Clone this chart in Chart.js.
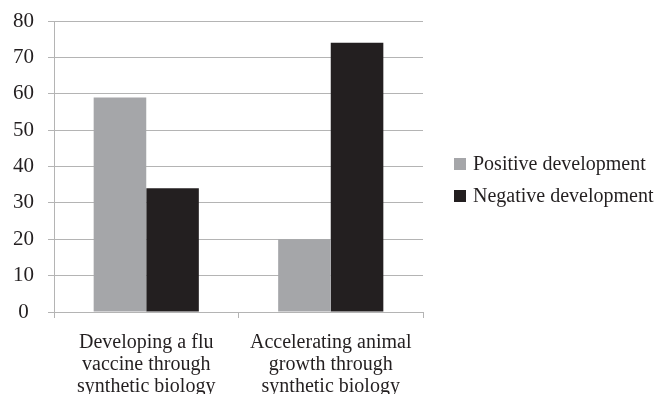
<!DOCTYPE html>
<html>
<head>
<meta charset="utf-8">
<script src="https://cdn.jsdelivr.net/npm/chart.js@4/dist/chart.umd.min.js"></script>
<style>
  html, body { margin: 0; padding: 0; background: #fff; }
  #wrap { width: 654px; height: 394px; }
</style>
</head>
<body>
<div id="wrap"><canvas id="c" width="654" height="394"></canvas></div>
<script>
const categories = [
  ['Developing a flu', 'vaccine through', 'synthetic biology'],
  ['Accelerating animal', 'growth through', 'synthetic biology']
];
const seriesNames = ['Positive development', 'Negative development'];
const positiveValues = [59, 20];
const negativeValues = [34, 74];
const yTicks = [0, 10, 20, 30, 40, 50, 60, 70, 80];

const GRAY = '#a5a6a9';
const BLACK = '#231f20';
const GRID = '#b4b4b4';
const SERIF = '"Liberation Serif", "Times New Roman", serif';

// Legend drawn to the right of the plot, using the dataset colours and labels
const sideLegend = {
  id: 'sideLegend',
  afterDraw(chart) {
    const ctx = chart.ctx;
    ctx.save();
    ctx.font = '20px ' + SERIF;
    ctx.textBaseline = 'middle';
    ctx.textAlign = 'left';
    const x = 454, y0 = 164, step = 32, box = 12;
    chart.data.datasets.forEach((ds, i) => {
      const y = y0 + i * step;
      ctx.fillStyle = ds.backgroundColor;
      ctx.fillRect(x, y - box / 2, box, box);
      ctx.fillStyle = '#231f20';
      ctx.fillText(ds.label, x + 19, y + 1);
    });
    ctx.restore();
  }
};

new Chart(document.getElementById('c'), {
  type: 'bar',
  data: {
    labels: categories,
    datasets: [
      { label: seriesNames[0], data: positiveValues, backgroundColor: GRAY },
      { label: seriesNames[1], data: negativeValues, backgroundColor: BLACK }
    ]
  },
  options: {
    responsive: false,
    animation: false,
    devicePixelRatio: 1,
    layout: { padding: { top: 21, right: 231, bottom: 0, left: 0 } },
    datasets: { bar: { categoryPercentage: 0.57, barPercentage: 1.0, borderWidth: 0 } },
    plugins: {
      legend: { display: false },
      tooltip: { enabled: false }
    },
    scales: {
      x: {
        offset: true,
        grid: { display: true, drawOnChartArea: false, drawTicks: true, tickLength: 6, color: GRID, offset: true },
        border: { display: true, color: GRID, width: 1 },
        ticks: {
          color: '#231f20',
          font: { family: SERIF, size: 20, lineHeight: 1.1 },
          padding: 14,
          maxRotation: 0,
          autoSkip: false
        },
        afterFit(scale) { scale.height = 82; }
      },
      y: {
        min: 0,
        max: 80,
        afterBuildTicks(scale) { scale.ticks = yTicks.map(v => ({ value: v })); },
        grid: { color: GRID, tickLength: 6, drawTicks: true },
        border: { display: true, color: GRID, width: 1 },
        ticks: {
          color: '#231f20',
          font: { family: SERIF, size: 21 },
          padding: 14,
          crossAlign: 'center'
        },
        afterFit(scale) {
          scale.width = 54;
          scale.paddingTop = 0;
          scale.paddingBottom = 0;
        }
      }
    }
  },
  plugins: [sideLegend]
});
</script>
</body>
</html>
